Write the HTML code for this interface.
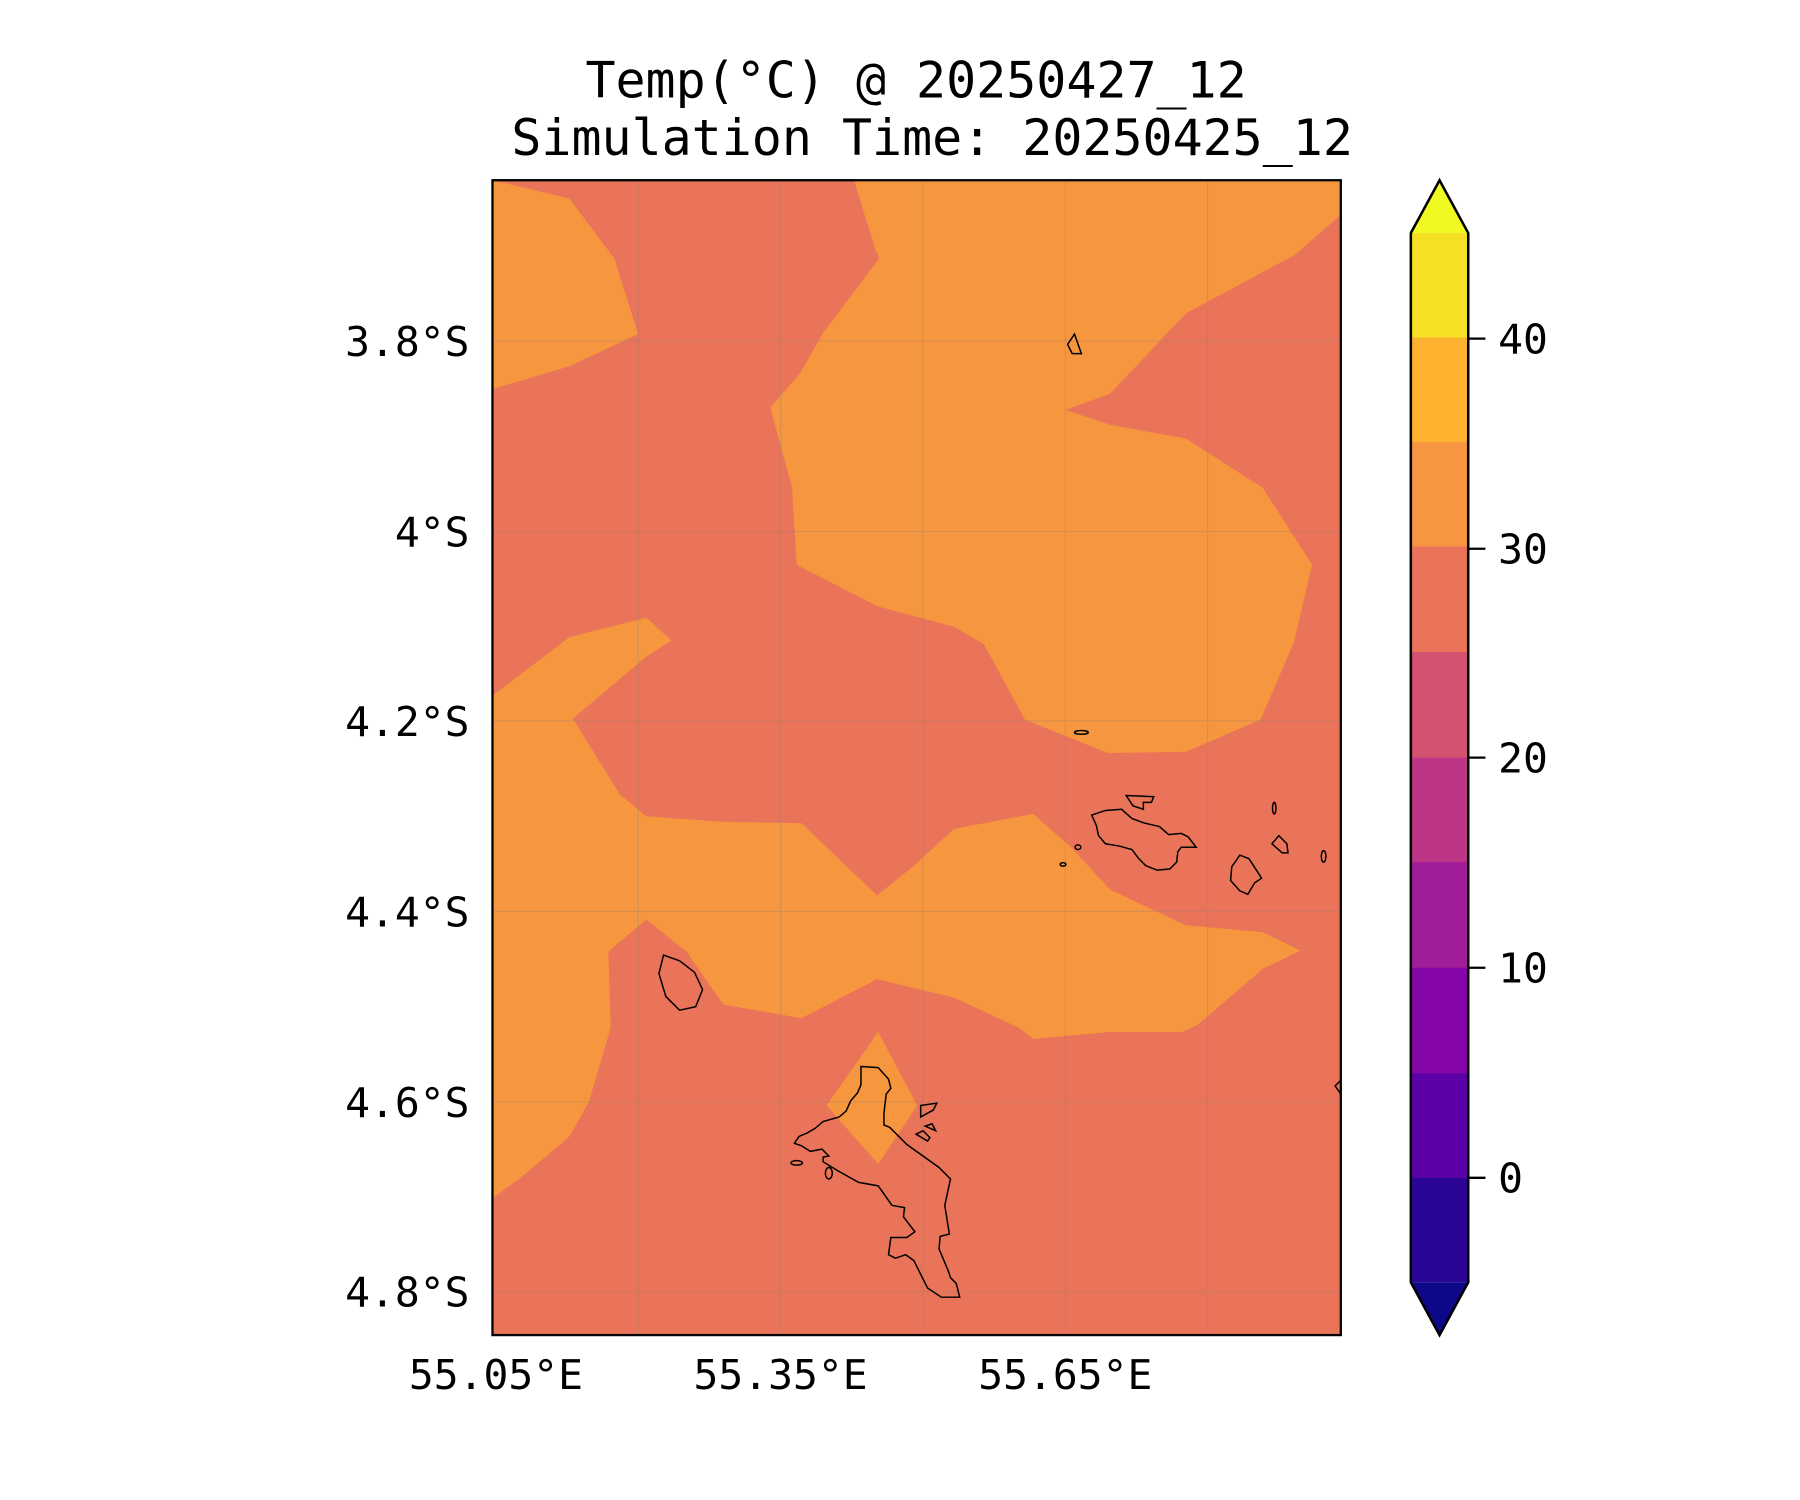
<!DOCTYPE html>
<html><head><meta charset="utf-8"><style>
html,body{margin:0;padding:0;background:#fff;}
svg{display:block;}
text{font-family:"DejaVu Sans Mono","Liberation Mono",monospace;fill:#000;}
</style></head><body>
<svg width="1800" height="1500" viewBox="0 0 1568 1306.67" xmlns="http://www.w3.org/2000/svg">
<rect width="1568" height="1307" fill="#fff"/>
<text x="798" y="85" font-size="43.5" text-anchor="middle">Temp(°C) @ 20250427_12</text>
<text x="812" y="135" font-size="43.5" text-anchor="middle">Simulation Time: 20250425_12</text>
<defs><clipPath id="c"><rect x="429" y="157" width="739" height="1006"/></clipPath></defs>
<g clip-path="url(#c)">
<rect x="429" y="157" width="739" height="1006" fill="#e97459"/>
<g fill="#f6963f">
<polygon points="429,157 496,173 535,225 556,291 496,319 429,339"/>
<polygon points="744,157 1168,157 1168,187 1128,222 1100,237 1033,273 967,343 928,357 967,370 1033,382 1100,425 1143,492 1127,560 1098,627 1033,655 965,656 893,627 857,561 831,546 764,528 694,492 690,425 671,355 697,325 717,290 766,225 762,216"/>
<polygon points="429,606 496,555 563,538 585,558 563,572 499,626 540,692 563,711 630,716 698,717 764,780 795,755 831,722 900,709 933,738 967,775 1033,806 1100,812 1133,828 1100,844 1043,893 1030,899 967,899 900,905 887,895 831,869 764,853 698,887 630,875 598,829 563,801 530,829 532,895 513,960 496,990 456,1024 429,1044"/>
<polygon points="765,899 799,963 765,1014 720,963"/>
</g>
<g stroke="#a08070" stroke-opacity="0.35" stroke-width="1">
<line x1="556" y1="157" x2="556" y2="1163"/><line x1="680" y1="157" x2="680" y2="1163"/><line x1="804" y1="157" x2="804" y2="1163"/><line x1="928" y1="157" x2="928" y2="1163"/><line x1="1052" y1="157" x2="1052" y2="1163"/>
<line x1="429" y1="297" x2="1168" y2="297"/><line x1="429" y1="463" x2="1168" y2="463"/><line x1="429" y1="628" x2="1168" y2="628"/><line x1="429" y1="794" x2="1168" y2="794"/><line x1="429" y1="960" x2="1168" y2="960"/><line x1="429" y1="1125" x2="1168" y2="1125"/>
</g>
<g fill="none" stroke="#000" stroke-width="1.3">
<polygon points="750,929 765,930 774,940 776,948 772,953 770,970 770,980 775,982 790,997 818,1017 828,1027 823,1050 827,1075 819,1077 818,1088 826,1107 828,1113 833,1118 836,1130 820,1130 808,1122 796,1098 789,1093 780,1096 774,1093 776,1078 790,1078 797,1073 787,1060 788,1052 777,1050 765,1033 748,1030 730,1020 717,1012 717,1008 722,1007 716,1001 706,1003 698,998 692,996 696,990 703,987 710,983 717,977 731,973 737,968 741,959 747,952 750,945"/>
<polygon points="578,832 592,837 605,847 612,862 606,877 592,880 580,868 574,848"/>
<polygon points="951,710 963,706 977,705 986,713 997,717 1010,720 1018,727 1029,726 1035,729 1042,738 1029,738 1026,742 1025,751 1019,757 1008,758 998,754 992,748 986,740 975,737 963,735 957,728 955,719"/>
<polygon points="981,693 1005,694 1003,699 996,699 996,705 987,702"/>
<polygon points="1080,745 1088,748 1099,765 1093,769 1087,779 1080,776 1072,767 1073,755"/>
<polygon points="930,300 936,291 942,308 934,308"/>
<polygon points="1108,735 1114,728 1121,735 1122,743 1117,743"/>
<polygon points="802,963 816,961 813,967 802,973"/>
<polygon points="798,988 804,985 810,991 808,994"/>
<polygon points="806,981 812,979 815,985"/>
<ellipse cx="942" cy="638" rx="6" ry="1.6"/>
<ellipse cx="939" cy="738" rx="2.5" ry="2"/>
<ellipse cx="926" cy="753" rx="2.5" ry="1.5"/>
<ellipse cx="1110" cy="704" rx="1.5" ry="5"/>
<ellipse cx="1153" cy="746" rx="2" ry="5"/>
<ellipse cx="694" cy="1013" rx="5" ry="2"/>
<ellipse cx="722" cy="1022" rx="3" ry="5"/>
<polygon points="1168,941 1163,946 1168,953"/>
</g>
</g>
<rect x="429" y="157" width="739" height="1006" fill="none" stroke="#000" stroke-width="2"/>
<g font-size="36" text-anchor="end">
<text x="409" y="310">3.8°S</text><text x="409" y="476">4°S</text><text x="409" y="641">4.2°S</text><text x="409" y="807">4.4°S</text><text x="409" y="973">4.6°S</text><text x="409" y="1138">4.8°S</text>
</g>
<g font-size="36" text-anchor="middle">
<text x="432" y="1210">55.05°E</text><text x="680" y="1210">55.35°E</text><text x="928" y="1210">55.65°E</text>
</g>
<polygon points="1229,203 1254,157 1279,203" fill="#f0f921"/>
<rect x="1229" y="203" width="50" height="92" fill="#f5e024"/>
<rect x="1229" y="294" width="50" height="92" fill="#fdb32f"/>
<rect x="1229" y="385" width="50" height="92" fill="#f89540"/>
<rect x="1229" y="476" width="50" height="93" fill="#e97459"/>
<rect x="1229" y="568" width="50" height="93" fill="#d35171"/>
<rect x="1229" y="660" width="50" height="92" fill="#bc3587"/>
<rect x="1229" y="751" width="50" height="93" fill="#a21d9a"/>
<rect x="1229" y="843" width="50" height="93" fill="#8506a6"/>
<rect x="1229" y="935" width="50" height="92" fill="#5c01a6"/>
<rect x="1229" y="1026" width="50" height="91" fill="#2b0594"/>
<polygon points="1229,1117 1254,1163 1279,1117" fill="#0d0887"/>
<polygon points="1229,203 1254,157 1279,203 1279,1117 1254,1163 1229,1117" fill="none" stroke="#000" stroke-width="2.2"/>
<g stroke="#000" stroke-width="2">
<line x1="1279" y1="295" x2="1294" y2="295"/><line x1="1279" y1="478" x2="1294" y2="478"/><line x1="1279" y1="660" x2="1294" y2="660"/><line x1="1279" y1="843" x2="1294" y2="843"/><line x1="1279" y1="1026" x2="1294" y2="1026"/>
</g>
<g font-size="36">
<text x="1305" y="308">40</text><text x="1305" y="491">30</text><text x="1305" y="673">20</text><text x="1305" y="856">10</text><text x="1305" y="1039">0</text>
</g>
</svg>
</body></html>
